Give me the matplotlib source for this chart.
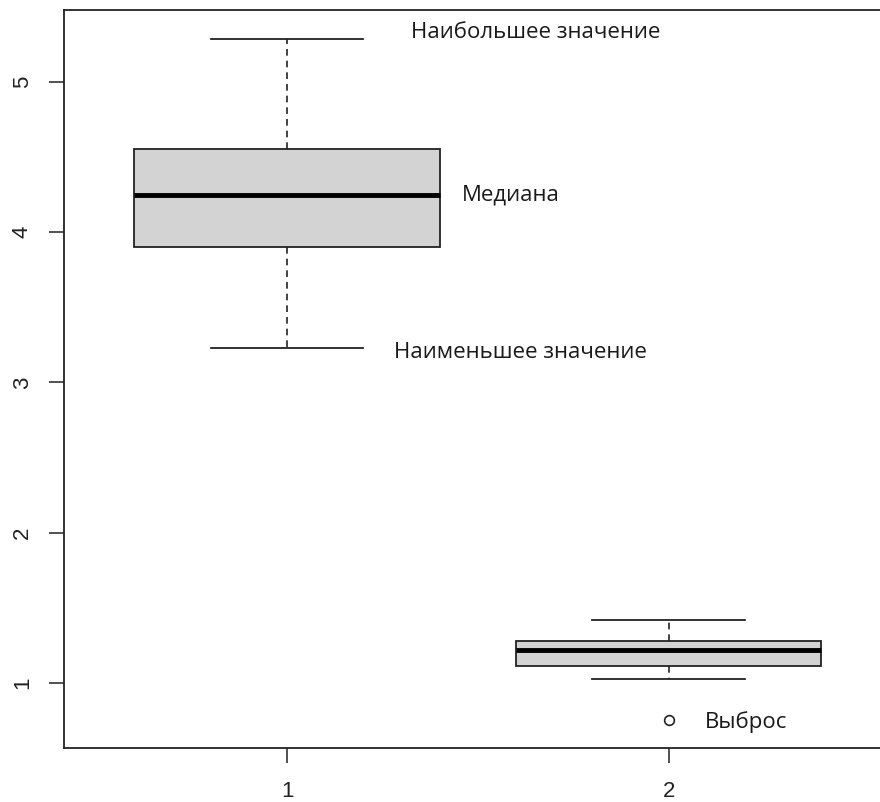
import matplotlib
matplotlib.use("Agg")
import matplotlib.pyplot as plt

# Data
positions = [1, 2]
tick_labels = ["1", "2"]
whislo = [3.23, 1.029]
q1 = [3.90, 1.11]
med = [4.248, 1.221]
q3 = [4.553, 1.276]
whishi = [5.285, 1.416]
fliers = [[], [0.752]]
yticks = [1, 2, 3, 4, 5]

annotations = [
    ("Наибольшее значение", 1.325, 5.292),
    ("Медиана", 1.458, 4.214),
    ("Наименьшее значение", 1.279, 3.164),
    ("Выброс", 2.096, 0.701),
]

W, H = 880, 802
fig = plt.figure(figsize=(W / 100, H / 100), dpi=100)
left, right, top, bottom = 64, 890, 10, 748
ax = fig.add_axes([left / W, 1 - bottom / H, (right - left) / W, (bottom - top) / H])

stats = []
for i in range(len(positions)):
    stats.append(dict(med=med[i], q1=q1[i], q3=q3[i], whislo=whislo[i],
                      whishi=whishi[i], fliers=fliers[i], label=tick_labels[i]))

ax.bxp(stats, positions=positions, widths=0.8, patch_artist=True,
       boxprops=dict(facecolor="#d3d3d3", edgecolor="#222222", linewidth=1.3),
       medianprops=dict(color="black", linewidth=3.5, solid_capstyle="butt"),
       whiskerprops=dict(color="#222222", linewidth=1.2, linestyle=(0, (4, 3))),
       capprops=dict(color="#222222", linewidth=1.3),
       capwidths=0.4,
       flierprops=dict(marker="o", markersize=7, markerfacecolor="white",
                       markeredgecolor="#222222", markeredgewidth=1.2))

ax.set_xlim(0.4155, 2.58)
ax.set_ylim(0.567, 5.479)
ax.set_yticks(yticks)
ax.set_yticklabels([str(v) for v in yticks], rotation=90, va="center")
ax.set_xticks(positions)
ax.set_xticklabels(tick_labels)
ax.tick_params(axis="both", length=10.5, width=1.1, color="#222222",
               labelsize=16, labelcolor="#222222")
ax.tick_params(axis="x", pad=13)
ax.tick_params(axis="y", pad=12)
for lab in ax.get_xticklabels() + ax.get_yticklabels():
    lab.set_fontfamily("Liberation Sans")
for s in ax.spines.values():
    s.set_linewidth(1.3)
    s.set_color("#222222")

for txt, x, y in annotations:
    ax.text(x, y, txt, fontsize=16, family=["Open Sans", "DejaVu Sans"],
            color="#1a1a1a", ha="left", va="baseline")

fig.savefig("out.png", dpi=100)
